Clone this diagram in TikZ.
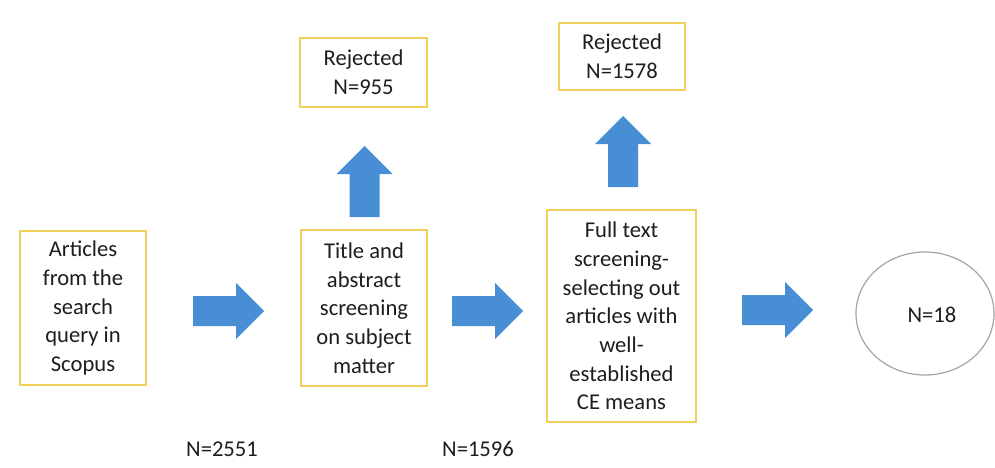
\documentclass[tikz,border=0pt]{standalone}
\usepackage{fontspec}
\setmainfont{Carlito}
\usetikzlibrary{shapes.geometric}
\definecolor{boxedge}{RGB}{242,208,90}
\definecolor{flowblue}{RGB}{72,142,212}
\definecolor{inkgray}{RGB}{30,30,30}
\definecolor{ringgray}{RGB}{165,165,165}
\tikzset{
  x=1pt, y=-1pt,
  every node/.style={text=inkgray, font=\fontsize{22.6}{28.7}\selectfont},
  stagebox/.style={draw=boxedge, line width=2pt, fill=white, inner sep=0pt,
    align=center, minimum width=#1},
  stagebox/.default=126pt,
  countlabel/.style={inner sep=0pt},
  resultring/.style={ellipse, draw=ringgray, line width=1.2pt, inner sep=0pt,
    minimum width=138pt, minimum height=123pt},
  blockarrow/.pic={
    \fill[flowblue] (0,-15) -- (43,-15) -- (43,-28) -- (71,0) -- (43,28)
      -- (43,15) -- (0,15) -- cycle;
  }
}
\begin{document}
\begin{tikzpicture}
\useasboundingbox[fill=white] (0,0) rectangle (995,468);

% process stages
\node[stagebox, minimum height=154pt] (articles) at (83,308)
  {Articles\\from the\\search\\query in\\Scopus};
\node[stagebox, minimum height=156pt] (title) at (364,308)
  {Title and\\abstract\\screening\\on subject\\matter};
\node[stagebox=149pt, minimum height=212pt] (fulltext) at (621.5,316)
  {Full text\\screening-\\selecting out\\articles with\\well-\\established\\CE means};

% rejected records
\node[stagebox=127pt, minimum height=69pt] (rej1) at (363.5,72.5)
  {Rejected\\N=955};
\node[stagebox, minimum height=67pt] (rej2) at (622,56.5)
  {Rejected\\N=1578};

% final set
\node[resultring] (final) at (925,313.5) {};
\node at (932,315) {N=18};

% counts passed on between stages
\node[countlabel] (n1) at (222,449) {N=2551};
\node[countlabel] (n2) at (478,449) {N=1596};

% block arrows
\coordinate (a1) at (193,311);
\coordinate (a2) at (452,311);
\coordinate (a3) at (742,310);
\coordinate (u1) at (364.5,217);
\coordinate (u2) at (623,187);
\pic at (a1) {blockarrow};
\pic at (a2) {blockarrow};
\pic at (a3) {blockarrow};
\pic[rotate=90] at (u1) {blockarrow};
\pic[rotate=90] at (u2) {blockarrow};
\end{tikzpicture}
\end{document}
